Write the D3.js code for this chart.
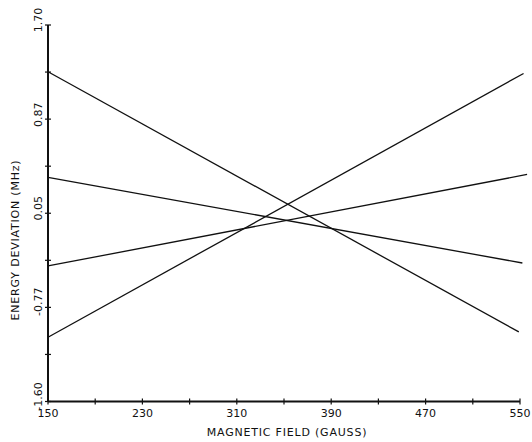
<!DOCTYPE html>
<meta charset="utf-8">
<head>
<style>
body { margin: 0; background: #fff; }
text {
  font-family: "DejaVu Sans", Arial, sans-serif;
  fill: #111;
}
.axis path, .axis line { stroke: #111; }
</style>
</head>
<body>
<script src="https://d3js.org/d3.v7.min.js"></script>
<script>

var width = 532,
    height = 442;

// field values (gauss) and energy deviations (MHz)
var xTicks = [150, 190, 230, 270, 310, 350, 390, 430, 470, 510, 550];
var xLabels = [150, 230, 310, 390, 470, 550];
var yTicks = [1.70, 1.2875, 0.875, 0.4625, 0.05, -0.3625, -0.775, -1.1875, -1.60];
var yLabels = ["1.70", "0.87", "0.05", "-0.77", "-1.60"];

var lineA = [[150, 1.29], [549, -0.99]];
var lineB = [[150, 0.365], [552, -0.386]];
var lineC = [[150, -0.412], [556, 0.39]];
var lineD = [[150, -1.037], [553, 1.275]];
var series = [lineA, lineB, lineC, lineD];

var x = d3.scaleLinear().domain([150, 550]).range([48, 520]);
var y = d3.scaleLinear().domain([-1.60, 1.70]).range([401.5, 25]);

var svg = d3.select("body").append("svg")
    .attr("width", width)
    .attr("height", height);

// axes
svg.append("line")
    .attr("x1", x(150)).attr("x2", x(550))
    .attr("y1", y(-1.60)).attr("y2", y(-1.60))
    .attr("stroke", "#111").attr("stroke-width", 2);

svg.append("line")
    .attr("x1", x(150)).attr("x2", x(150))
    .attr("y1", y(-1.60)).attr("y2", y(1.70))
    .attr("stroke", "#111").attr("stroke-width", 2);

svg.selectAll(".xt").data(xTicks).enter().append("line")
    .attr("x1", function(d) { return x(d); })
    .attr("x2", function(d) { return x(d); })
    .attr("y1", y(-1.60) - 3)
    .attr("y2", y(-1.60) + 3)
    .attr("stroke", "#111").attr("stroke-width", 1.2);

svg.selectAll(".yt").data(yTicks).enter().append("line")
    .attr("x1", x(150) - 3)
    .attr("x2", x(150) + 3)
    .attr("y1", function(d) { return y(d); })
    .attr("y2", function(d) { return y(d); })
    .attr("stroke", "#111").attr("stroke-width", 1.2);

svg.selectAll(".xl").data(xLabels).enter().append("text")
    .attr("x", function(d) { return x(d); })
    .attr("y", 417)
    .attr("text-anchor", "middle")
    .attr("font-size", 11)
    .text(function(d) { return d; });

svg.selectAll(".yl").data(yLabels).enter().append("text")
    .attr("transform", function(d) {
      return "translate(42," + (y(+d) - 5) + ") rotate(-90)";
    })
    .attr("text-anchor", "middle")
    .attr("font-size", 11)
    .text(function(d) { return d; });

svg.append("text")
    .attr("x", 287)
    .attr("y", 436)
    .attr("text-anchor", "middle")
    .attr("font-size", 11)
    .attr("letter-spacing", 0.8)
    .text("MAGNETIC  FIELD  (GAUSS)");

svg.append("text")
    .attr("transform", "translate(19,240) rotate(-90)")
    .attr("text-anchor", "middle")
    .attr("font-size", 11)
    .attr("letter-spacing", 0.8)
    .text("ENERGY  DEVIATION   (MHz)");

var line = d3.line()
    .x(function(d) { return x(d[0]); })
    .y(function(d) { return y(d[1]); });

svg.selectAll(".level").data(series).enter().append("path")
    .attr("d", line)
    .attr("fill", "none")
    .attr("stroke", "#111")
    .attr("stroke-width", 1.3);

</script>
</body>
